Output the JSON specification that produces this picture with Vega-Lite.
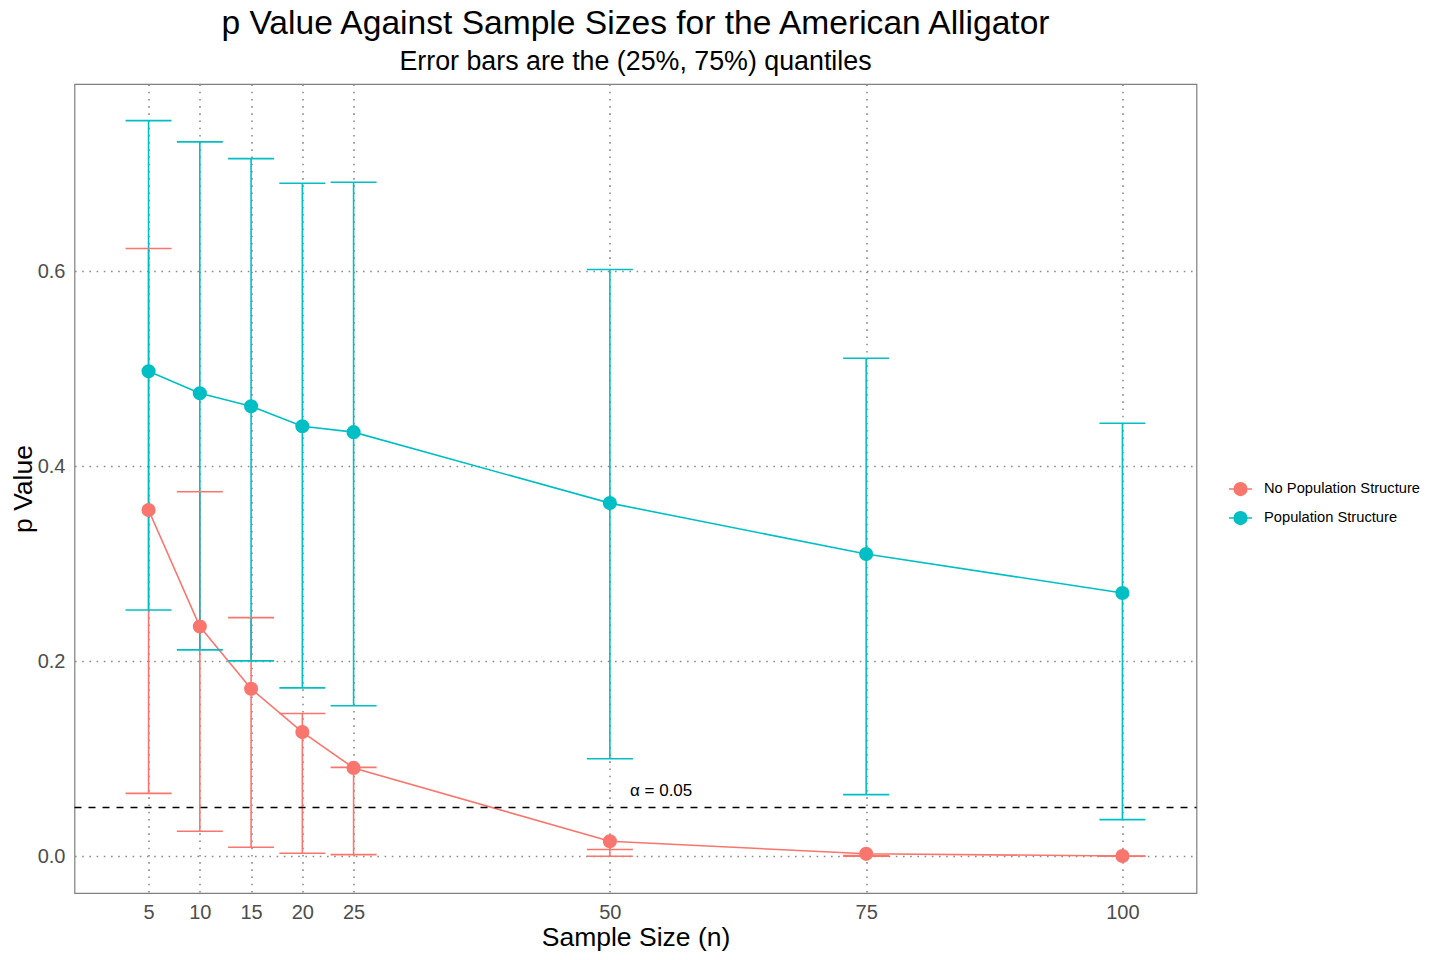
{
  "$schema": "https://vega.github.io/schema/vega-lite/v6.json",
  "width": 1122,
  "height": 809,
  "autosize": {"type": "none"},
  "padding": {"left": 74.5, "top": 84, "right": 243.5, "bottom": 67},
  "background": "white",
  "title": {
    "text": "p Value Against Sample Sizes for the American Alligator",
    "subtitle": "Error bars are the (25%, 75%) quantiles",
    "anchor": "middle",
    "frame": "group",
    "font": "Liberation Sans",
    "subtitleFont": "Liberation Sans",
    "fontSize": 33.6,
    "subtitleFontSize": 26.8,
    "fontWeight": "normal",
    "color": "black",
    "subtitleColor": "black",
    "offset": 8,
    "subtitlePadding": 9
  },
  "config": {
    "view": {"stroke": "#7f7f7f", "strokeWidth": 1.2},
    "axis": {
      "labelFont": "Liberation Sans",
      "titleFont": "Liberation Sans",
      "labelFontSize": 20,
      "titleFontSize": 26.5,
      "titleFontWeight": "normal",
      "labelColor": "#4d4d4d",
      "titleColor": "black",
      "domain": false,
      "ticks": false,
      "tickSize": 0,
      "grid": true,
      "gridColor": "#8c8c8c",
      "gridDash": [1.6, 5.6],
      "gridWidth": 1.6
    }
  },
  "data": {
    "values": [
      {"n": 5, "group": "No Population Structure", "p": 0.3552, "lower": 0.0645, "upper": 0.6235},
      {"n": 10, "group": "No Population Structure", "p": 0.2356, "lower": 0.0256, "upper": 0.3739},
      {"n": 15, "group": "No Population Structure", "p": 0.1718, "lower": 0.0092, "upper": 0.2448},
      {"n": 20, "group": "No Population Structure", "p": 0.1274, "lower": 0.0031, "upper": 0.1465},
      {"n": 25, "group": "No Population Structure", "p": 0.0906, "lower": 0.0017, "upper": 0.0912},
      {"n": 50, "group": "No Population Structure", "p": 0.0154, "lower": 0.0, "upper": 0.0069},
      {"n": 75, "group": "No Population Structure", "p": 0.0025, "lower": 0.0, "upper": 0.0007},
      {"n": 100, "group": "No Population Structure", "p": 0.0003, "lower": 0.0, "upper": 0.0001},
      {"n": 5, "group": "Population Structure", "p": 0.4975, "lower": 0.2527, "upper": 0.7547},
      {"n": 10, "group": "Population Structure", "p": 0.475, "lower": 0.2117, "upper": 0.7329},
      {"n": 15, "group": "Population Structure", "p": 0.4617, "lower": 0.2005, "upper": 0.7157},
      {"n": 20, "group": "Population Structure", "p": 0.4412, "lower": 0.1728, "upper": 0.6904},
      {"n": 25, "group": "Population Structure", "p": 0.4351, "lower": 0.1544, "upper": 0.6915},
      {"n": 50, "group": "Population Structure", "p": 0.3623, "lower": 0.1001, "upper": 0.602},
      {"n": 75, "group": "Population Structure", "p": 0.3101, "lower": 0.0632, "upper": 0.5109},
      {"n": 100, "group": "Population Structure", "p": 0.2701, "lower": 0.0376, "upper": 0.4443}
    ]
  },
  "encoding": {
    "x": {
      "field": "n",
      "type": "quantitative",
      "scale": {"domain": [-2.225, 107.225], "nice": false, "zero": false},
      "axis": {
        "title": "Sample Size (n)",
        "values": [5, 10, 15, 20, 25, 50, 75, 100],
        "labelBaseline": "middle",
        "labelPadding": 19,
        "titleX": 561,
        "titleY": 44,
        "titleBaseline": "middle",
        "titleAlign": "center"
      }
    },
    "color": {
      "field": "group",
      "type": "nominal",
      "scale": {
        "domain": ["No Population Structure", "Population Structure"],
        "range": ["#F8766D", "#00BFC4"]
      },
      "legend": {
        "title": null,
        "orient": "none",
        "legendX": 1153.5,
        "legendY": 392.5,
        "padding": 0,
        "rowPadding": 6,
        "labelFont": "Liberation Sans",
        "labelFontSize": 14.7,
        "labelColor": "black",
        "labelOffset": 11,
        "symbolSize": 529,
        "symbolStrokeWidth": 1.6,
        "symbolType": "M-0.55,0A0.55,0.55 0 1,1 0.55,0A0.55,0.55 0 1,1 -0.55,0ZM-1,0L1,0",
        "encode": {
          "symbols": {
            "update": {
              "stroke": {"scale": "color", "field": "value"},
              "fill": {"scale": "color", "field": "value"},
              "opacity": {"value": 1}
            }
          }
        }
      }
    }
  },
  "layer": [
    {
      "mark": {"type": "line", "strokeWidth": 1.6},
      "encoding": {
        "y": {
          "field": "p",
          "type": "quantitative",
          "scale": {"domain": [-0.0377, 0.7923], "nice": false, "zero": false},
          "axis": {
            "title": "p Value",
            "values": [0, 0.2, 0.4, 0.6],
            "format": ".1f",
            "labelPadding": 9.5,
            "titleX": -51.5,
            "titleY": 404.5,
            "titleBaseline": "middle",
            "titleAlign": "center",
            "titleAngle": -90
          }
        }
      }
    },
    {
      "mark": {"type": "rule", "strokeWidth": 1.6},
      "encoding": {
        "y": {"field": "lower", "type": "quantitative"},
        "y2": {"field": "upper"}
      }
    },
    {
      "mark": {"type": "tick", "orient": "horizontal", "size": 46, "thickness": 1.6, "opacity": 1},
      "encoding": {
        "y": {"field": "lower", "type": "quantitative"}
      }
    },
    {
      "mark": {"type": "tick", "orient": "horizontal", "size": 46, "thickness": 1.6, "opacity": 1},
      "encoding": {
        "y": {"field": "upper", "type": "quantitative"}
      }
    },
    {
      "mark": {"type": "point", "filled": true, "size": 200, "opacity": 1},
      "encoding": {
        "y": {"field": "p", "type": "quantitative"}
      }
    },
    {
      "data": {"values": [{"alpha": 0.05}]},
      "mark": {"type": "rule", "color": "black", "strokeWidth": 1.6, "strokeDash": [7, 7]},
      "encoding": {
        "y": {"field": "alpha", "type": "quantitative"},
        "x": {"value": 0},
        "x2": {"value": 1122},
        "color": {"value": "black"}
      }
    },
    {
      "data": {"values": [{"n": 55, "y": 0.067, "label": "α = 0.05"}]},
      "mark": {"type": "text", "font": "Liberation Sans", "fontSize": 17, "color": "black", "align": "center", "baseline": "middle"},
      "encoding": {
        "x": {"field": "n", "type": "quantitative"},
        "y": {"field": "y", "type": "quantitative"},
        "text": {"field": "label"},
        "color": {"value": "black"}
      }
    }
  ]
}
